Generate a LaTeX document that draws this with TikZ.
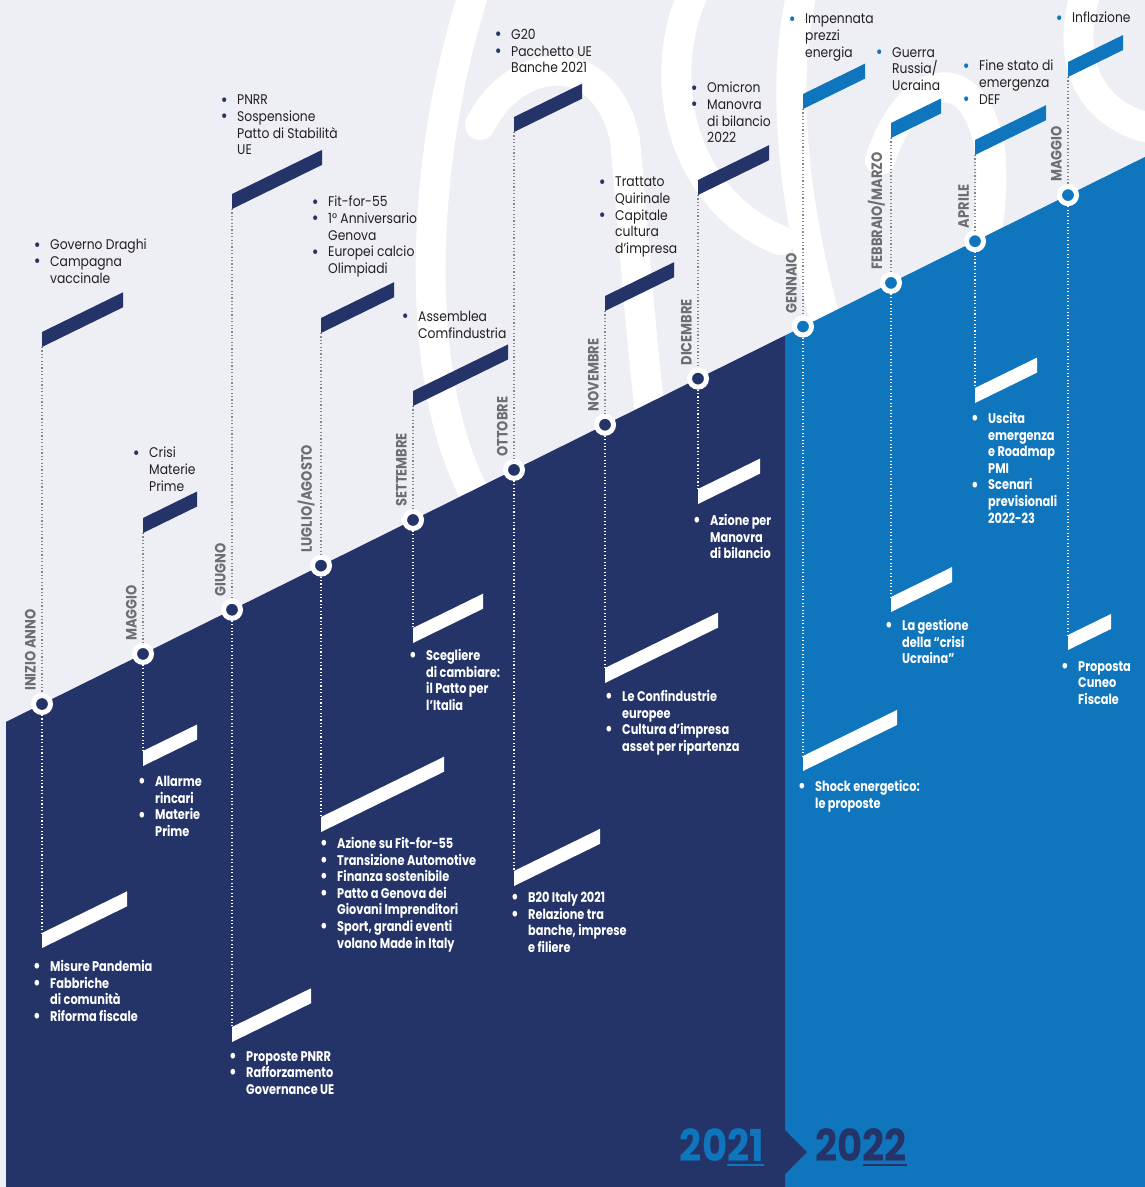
\documentclass[tikz,border=0pt]{standalone}
\usepackage{fontspec}
\setmainfont{Poppins}[FakeStretch=0.88]
\newfontfamily\heavyfont{Poppins}[FakeStretch=0.81]
\newfontfamily\monthfont{Poppins}[FakeStretch=0.87]
\newfontfamily\yearfont{Poppins}[FakeStretch=0.88]
\usetikzlibrary{positioning}

\definecolor{navy}{HTML}{243469}
\definecolor{azure}{HTML}{0F75BC}
\definecolor{paper}{HTML}{EEEFF4}
\definecolor{monthgray}{HTML}{6D6E71}
\definecolor{ink}{HTML}{231F20}
\definecolor{dotgray}{HTML}{85868A}
\colorlet{bulc}{navy}

% bullet hanging left of the text
\newcommand{\bl}{\llap{\textcolor{bulc}{\raisebox{-1.3pt}{\scalebox{1.35}{\textbullet}}}\hspace{9.5pt}}}
% year with its last two digits underlined
\newcommand{\yr}[2]{#1\setbox0\hbox{#2}\rlap{\rule[-4.5pt]{\wd0}{2pt}}\box0}

\begin{document}
\begin{tikzpicture}[x=1pt,y=-1pt]

% Define styles
\tikzstyle{script}=[white, line width=30pt, line cap=round]
\tikzstyle{dotup}=[dotgray, line width=1.1pt, dash pattern=on 1.1pt off 2.3pt]
\tikzstyle{dotdown}=[white, line width=1.1pt, dash pattern=on 1.1pt off 2.3pt]
\tikzstyle{ring}=[circle, draw=white, line width=5pt, minimum size=17pt, inner sep=0pt]
\tikzstyle{month}=[rotate=90, anchor=south west, inner sep=0pt, text=monthgray, font=\monthfont\bfseries\fontsize{15}{15}\selectfont]
\tikzstyle{uptext}=[anchor=north west, align=left, inner sep=0pt, text=ink, font=\fontsize{14}{16.6}\selectfont]
\tikzstyle{uptextb}=[uptext, execute at begin node={\colorlet{bulc}{azure}}]
\tikzstyle{lowtext}=[anchor=north west, align=left, inner sep=0pt, text=white, font=\heavyfont\bfseries\fontsize{14}{16.6}\selectfont, execute at begin node={\colorlet{bulc}{white}}]
\tikzstyle{year}=[anchor=base, inner sep=0pt, font=\yearfont\bfseries\fontsize{44}{44}\selectfont]

% Background and handwriting
\useasboundingbox (0,0) rectangle (1145,1187);
\fill[paper] (0,0) rectangle (1145,1187);
\draw[script] (478,-20) .. controls (420,150) and (410,380) .. (478,500);
\draw[script] (480,125) .. controls (515,55) and (605,45) .. (625,140) .. controls (635,250) and (640,330) .. (652,430);
\draw[script] (700,-20) .. controls (650,70) and (680,200) .. (780,240);
\draw[script] (805,-20) .. controls (775,90) and (800,230) .. (828,330);
\draw[script] (880,160) .. controls (910,70) and (975,60) .. (990,150) .. controls (995,200) and (985,240) .. (980,270);
\draw[script] (1090,-20) .. controls (1060,60) and (1090,120) .. (1160,130);

% Regions: 2022 first, 2021 with its arrow on top
\fill[azure] (785,335.5) -- (1145,156.9) -- (1145,1187) -- (785,1187) -- cycle;
\fill[navy] (6,721.9) -- (785,335.5) -- (785,1130) -- (807,1152) -- (785,1174) -- (785,1187) -- (6,1187) -- cycle;

% Events: x / upper flag bottom y / width / lower flag top y / width / colour / month
\foreach \i/\px/\uy/\uw/\ly/\lw/\col/\mon in {
  1/42/347/81/933/85/navy/INIZIO ANNO,
  2/143/533/54/751/54/navy/MAGGIO,
  3/232/209/90/1027/79/navy/GIUGNO,
  4/321/333/73/817/123/navy/{LUGLIO/AGOSTO},
  5/413/406/95/628/70/navy/SETTEMBRE,
  6/514/132/68/871/86/navy/OTTOBRE,
  7/605/311/69/668/113/navy/NOVEMBRE,
  8/698/195/71/489/62/navy/DICEMBRE,
  9/803/109/62/756/94/azure/GENNAIO,
  10/891/138/50/597/61/azure/{FEBBRAIO/MARZO},
  11/975/155/71/388/62/azure/APRILE,
  12/1068/77/55/635/43/azure/MAGGIO
} {
  \pgfmathsetmacro{\cy}{704-0.496*(\px-42)}
  \fill[\col] (\px,\uy) -- ++(0,-15) -- ++(\uw,-0.49*\uw) -- ++(0,15) -- cycle;
  \fill[white] (\px,\ly) -- ++(0,15) -- ++(\lw,-0.49*\lw) -- ++(0,-15) -- cycle;
  \coordinate (u\i) at (\px,\uy);
  \coordinate (l\i) at (\px,\ly);
  \node[ring, fill=\col] (c\i) at (\px,\cy) {};
  \draw[dotup] (u\i) -- (c\i);
  \draw[dotdown] (c\i) -- (l\i);
  \node[month] (m\i) at (\px-6,\cy-13) {\mon};
}

% Upper notes
\node[uptext] (a1) at (50,239) {\bl Governo Draghi\\ \bl Campagna\\ vaccinale};
\node[uptext] (a2) at (149,447) {\bl Crisi\\ Materie\\ Prime};
\node[uptext] (a3) at (237,95) {\bl PNRR\\ \bl Sospensione\\ Patto di Stabilità\\ UE};
\node[uptext] (a4) at (328,196) {\bl Fit-for-55\\ \bl 1° Anniversario\\ Genova\\ \bl Europei calcio\\ Olimpiadi};
\node[uptext] (a5) at (418,311) {\bl Assemblea\\ Comfindustria};
\node[uptext] (a6) at (511,29) {\bl G20\\ \bl Pacchetto UE\\ Banche 2021};
\node[uptext] (a7) at (615,177) {\bl Trattato\\ Quirinale\\ \bl Capitale\\ cultura\\ d’impresa};
\node[uptext] (a8) at (707,82) {\bl Omicron\\ \bl Manovra\\ di bilancio\\ 2022};
\node[uptextb] (a9) at (805,14) {\bl Impennata\\ prezzi\\ energia};
\node[uptextb] (a10) at (892,47) {\bl Guerra\\ Russia/\\ Ucraina};
\node[uptextb] (a11) at (979,60) {\bl Fine stato di\\ emergenza\\ \bl DEF};
\node[uptextb] (a12) at (1072,12) {\bl Inflazione};

% Lower notes
\node[lowtext] (b1) at (50,960) {\bl Misure Pandemia\\ \bl Fabbriche\\ di comunità\\ \bl Riforma fiscale};
\node[lowtext] (b2) at (155,776) {\bl Allarme\\ rincari\\ \bl Materie\\ Prime};
\node[lowtext] (b3) at (246,1051) {\bl Proposte PNRR\\ \bl Rafforzamento\\ Governance UE};
\node[lowtext] (b4) at (337,837) {\bl Azione su Fit-for-55\\ \bl Transizione Automotive\\ \bl Finanza sostenibile\\ \bl Patto a Genova dei\\ Giovani Imprenditori\\ \bl Sport, grandi eventi\\ volano Made in Italy};
\node[lowtext] (b5) at (426,649) {\bl Scegliere\\ di cambiare:\\ il Patto per\\ l’Italia};
\node[lowtext] (b6) at (528,892) {\bl B20 Italy 2021\\ \bl Relazione tra\\ banche, imprese\\ e filiere};
\node[lowtext] (b7) at (622,690) {\bl Le Confindustrie\\ europee\\ \bl Cultura d’impresa\\ asset per ripartenza};
\node[lowtext] (b8) at (710,514) {\bl Azione per\\ Manovra\\ di bilancio};
\node[lowtext] (b9) at (815,780) {\bl Shock energetico:\\ le proposte};
\node[lowtext] (b10) at (902,619) {\bl La gestione\\ della “crisi\\ Ucraina”};
\node[lowtext] (b11) at (988,412) {\bl Uscita\\ emergenza\\ e Roadmap\\ PMI\\ \bl Scenari\\ previsionali\\ 2022-23};
\node[lowtext] (b12) at (1078,661) {\bl Proposta\\ Cuneo\\ Fiscale};

% Years
\node[year, text=azure] (y21) at (722,1161) {\yr{20}{21}};
\node[year, text=navy] (y22) at (861,1161) {\yr{20}{22}};

\end{tikzpicture}
\end{document}
